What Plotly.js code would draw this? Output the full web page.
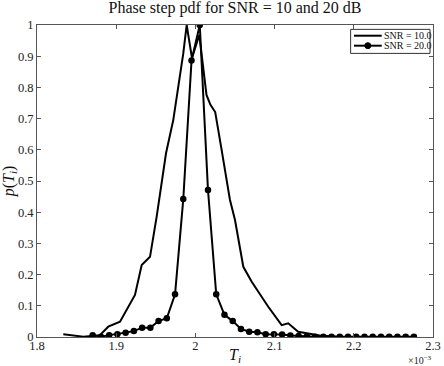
<!DOCTYPE html>
<html>
<head>
<meta charset="utf-8">
<script src="https://cdn.plot.ly/plotly-3.0.1.min.js"></script>
<style>
  html, body { margin: 0; padding: 0; background: #fff; }
  #chart { width: 444px; height: 366px; }
</style>
</head>
<body>
<div id="chart"></div>
<script>
// Phase step (T_i, in units of 1e-3) and estimated pdf for two SNR levels
const snr10_T = [1.8332, 1.8585, 1.8795, 1.8900, 1.9048, 1.9237, 1.9322, 1.9427, 1.9511, 1.9574,
                 1.9629, 1.9721, 1.9784, 1.9847, 1.9890, 1.9957, 2.0049, 2.0140, 2.0190, 2.0250,
                 2.0331, 2.0436, 2.0500, 2.0605, 2.0711, 2.0920, 2.1089, 2.1172, 2.1298, 2.1404,
                 2.1570, 2.1800];
const snr10_p = [0.009, 0.001, 0.006, 0.033, 0.049, 0.135, 0.231, 0.257, 0.386, 0.503,
                 0.589, 0.696, 0.802, 0.909, 1.000, 0.894, 0.968, 0.776, 0.744, 0.721,
                 0.600, 0.440, 0.375, 0.225, 0.177, 0.097, 0.038, 0.044, 0.017, 0.012,
                 0.005, 0.001];

const snr20_T = [1.8703, 1.8807, 1.8911, 1.9015, 1.9119, 1.9223, 1.9327, 1.9431, 1.9535, 1.9639,
                 1.9743, 1.9847, 1.9951, 2.0055, 2.0159, 2.0263, 2.0367, 2.0471, 2.0575, 2.0679,
                 2.0783, 2.0887, 2.0991, 2.1095, 2.1199, 2.1303, 2.1407, 2.1511, 2.1615, 2.1719,
                 2.1823, 2.1927, 2.2031, 2.2135, 2.2239, 2.2343, 2.2447, 2.2551, 2.2655, 2.2759];
const snr20_p = [0.006, 0.001, 0.006, 0.009, 0.014, 0.019, 0.030, 0.030, 0.051, 0.060,
                 0.137, 0.442, 0.886, 1.000, 0.471, 0.137, 0.071, 0.051, 0.026, 0.017,
                 0.015, 0.009, 0.009, 0.008, 0.005, 0.003, 0.002, 0.001, 0.001, 0.001,
                 0.001, 0.001, 0.001, 0.001, 0.001, 0.001, 0.001, 0.001, 0.001, 0.001];

const legendNames = ['SNR = 10.0', 'SNR = 20.0'];
const xTicks = [1.8, 1.9, 2.0, 2.1, 2.2, 2.3];
const xTickText = ['1.8', '1.9', '2', '2.1', '2.2', '2.3'];
const yTicks = [0, 0.1, 0.2, 0.3, 0.4, 0.5, 0.6, 0.7, 0.8, 0.9, 1];
const yTickText = ['0', '0.1', '0.2', '0.3', '0.4', '0.5', '0.6', '0.7', '0.8', '0.9', '1'];

const serif = 'Liberation Serif, Times New Roman, serif';
const ink = '#111';

const traces = [
  {
    x: snr10_T, y: snr10_p, name: legendNames[0],
    type: 'scatter', mode: 'lines', showlegend: false,
    line: { color: '#000', width: 2 }
  },
  {
    x: snr20_T, y: snr20_p, name: legendNames[1],
    type: 'scatter', mode: 'lines+markers', showlegend: false,
    line: { color: '#000', width: 2 },
    marker: { color: '#000', size: 6.5, symbol: 'circle' }
  }
];

const axisCommon = {
  showgrid: false, zeroline: false,
  showline: true, linecolor: '#555', linewidth: 1, mirror: 'ticks',
  ticks: 'inside', ticklen: 4, tickcolor: '#555', tickwidth: 1,
  tickfont: { family: serif, size: 12.5, color: '#222' }
};

// compact boxed key in the upper-right corner of the plot area
const key = { x0: 0.792, x1: 0.9924, y0: 0.909, y1: 0.986,
              lx0: 0.8005, lx1: 0.8705, rows: [0.9657, 0.9337] };

const shapes = [
  { type: 'rect', xref: 'paper', yref: 'paper', x0: key.x0, x1: key.x1, y0: key.y0, y1: key.y1,
    line: { color: '#333', width: 1 }, fillcolor: '#fff', layer: 'above' },
  { type: 'line', xref: 'paper', yref: 'paper', x0: key.lx0, x1: key.lx1, y0: key.rows[0], y1: key.rows[0],
    line: { color: '#000', width: 2 }, layer: 'above' },
  { type: 'line', xref: 'paper', yref: 'paper', x0: key.lx0, x1: key.lx1, y0: key.rows[1], y1: key.rows[1],
    line: { color: '#000', width: 2 }, layer: 'above' },
  { type: 'circle', xref: 'paper', yref: 'paper', xsizemode: 'pixel', ysizemode: 'pixel',
    xanchor: (key.lx0 + key.lx1) / 2, yanchor: key.rows[1], x0: -3, x1: 3, y0: -3, y1: 3,
    line: { color: '#000', width: 1 }, fillcolor: '#000', layer: 'above' }
];

const annotations = [
  {
    text: '×10<sup>−3</sup>', xref: 'paper', yref: 'paper',
    x: 1.002, xanchor: 'right', y: 0, yanchor: 'bottom', yshift: -30.5,
    showarrow: false, font: { family: serif, size: 10, color: '#222' }
  },
  {
    text: '<i>T</i><sub><i>i</i></sub>', xref: 'paper', yref: 'paper',
    x: 0.5, xanchor: 'center', y: 0, yanchor: 'top', yshift: -7,
    showarrow: false, font: { family: serif, size: 16, color: ink }
  }
];
legendNames.forEach((name, i) => {
  annotations.push({
    text: name, xref: 'paper', yref: 'paper',
    x: key.lx1, xanchor: 'left', y: key.rows[i], yanchor: 'middle',
    showarrow: false, font: { family: serif, size: 10, color: ink }
  });
});

const layout = {
  width: 444, height: 366,
  margin: { l: 37, r: 11, t: 25, b: 29 },
  paper_bgcolor: '#fff', plot_bgcolor: '#fff',
  title: {
    text: 'Phase step pdf for SNR = 10 and 20 dB',
    font: { family: serif, size: 16, color: ink },
    x: 0.5, xanchor: 'center', xref: 'paper',
    y: 1 - 2 / 366, yref: 'container', yanchor: 'top'
  },
  xaxis: Object.assign({}, axisCommon, {
    range: [1.8, 2.3], tickvals: xTicks, ticktext: xTickText,
    ticklabelstandoff: -3
  }),
  yaxis: Object.assign({}, axisCommon, {
    range: [0, 1], tickvals: yTicks, ticktext: yTickText,
    title: { text: '<i>p</i>(<i>T</i><sub><i>i</i></sub>)', font: { family: serif, size: 16, color: ink }, standoff: 4 }
  }),
  showlegend: false,
  shapes: shapes,
  annotations: annotations
};

Plotly.newPlot('chart', traces, layout, { displayModeBar: false, staticPlot: true });
</script>
</body>
</html>
